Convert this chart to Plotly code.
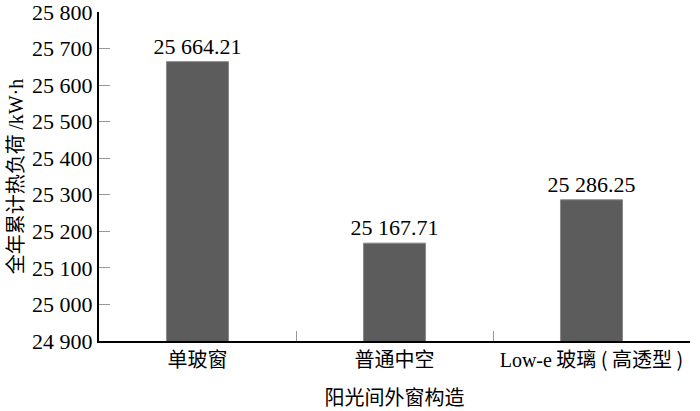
import plotly.graph_objects as go

categories = ["单玻窗", "普通中空", "Low-e 玻璃 ( 高透型 )"]
category_labels = ["单玻窗", "普通中空",
                   "<span style='font-family:Liberation Serif'>Low-e</span> 玻璃 ( 高透型 )"]
values = [25664.21, 25167.71, 25286.25]
y_ticks = [24900, 25000, 25100, 25200, 25300, 25400, 25500, 25600, 25700, 25800]


def fmt_int(v):
    return f"{v:,}".replace(",", " ")


def fmt_val(v):
    return f"{v:,.2f}".replace(",", " ")


serif = "Liberation Serif, Times New Roman, serif"
cjk = "Noto Sans CJK SC, sans-serif"

fig = go.Figure()
fig.add_trace(go.Bar(
    x=categories,
    y=values,
    width=0.315,
    marker=dict(color="#5c5c5c", line=dict(color="#8a8a8a", width=1)),
    text=[fmt_val(v) for v in values],
    textposition="outside",
    constraintext="none",
    textfont=dict(family=serif, size=22, color="#000"),
    cliponaxis=False,
))

fig.update_layout(
    width=700, height=411,
    margin=dict(l=99, r=10, t=12, b=70),
    paper_bgcolor="white", plot_bgcolor="white",
    showlegend=False,
)
fig.update_xaxes(
    type="category",
    range=[-0.5, 2.5],
    tickmode="array",
    tickvals=categories,
    ticktext=category_labels,
    tickson="boundaries",
    ticks="inside", ticklen=10, tickcolor="#999", tickwidth=1,
    showline=True, linecolor="black", linewidth=2,
    showgrid=False,
    automargin=False,
    tickfont=dict(family=cjk, size=20, color="#000"),
    title=dict(text="阳光间外窗构造", font=dict(family=cjk, size=20, color="#000"), standoff=20),
)
fig.update_yaxes(
    range=[24900, 25800],
    tickmode="array",
    tickvals=y_ticks,
    ticktext=[fmt_int(v) for v in y_ticks],
    ticks="inside", ticklen=11, tickcolor="#999", tickwidth=1,
    showline=True, linecolor="black", linewidth=2,
    showgrid=False, zeroline=False,
    automargin=False,
    ticklabeloverflow="allow",
    tickfont=dict(family=serif, size=22, color="#000"),
    title=dict(text="全年累计热负荷 <span style='font-family:Liberation Serif'>/kW·h</span>",
               font=dict(family=cjk, size=20, color="#000"), standoff=6),
)

fig.write_html("out.html", config={"displayModeBar": False},
               post_script="document.body.style.margin='0';")
